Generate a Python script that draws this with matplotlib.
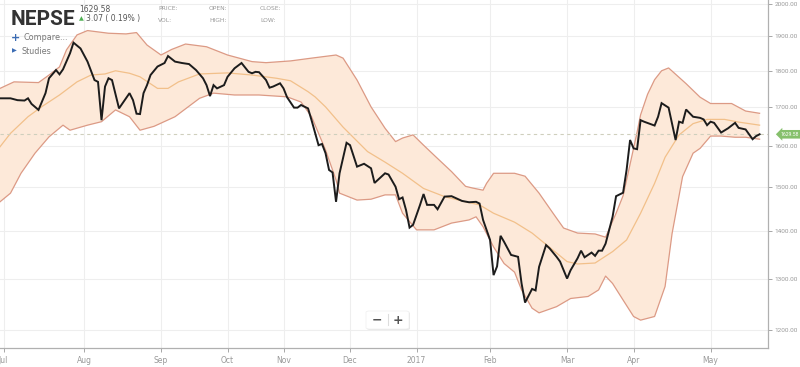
import matplotlib
matplotlib.use("Agg")
import matplotlib.pyplot as plt
import numpy as np
from matplotlib.ticker import FixedLocator, FuncFormatter, NullLocator
from matplotlib.patches import FancyBboxPatch
import matplotlib.transforms as mtransforms

# ---------------- data (trading-day index, value) ----------------
close_day = [0, 3, 5, 7, 8, 9, 11, 13, 14, 16, 17, 18, 20, 21, 23, 25, 27, 28, 29, 30, 31, 32, 34, 37,
             38, 39, 40, 41, 42, 43, 45, 47, 48, 50, 52, 54, 56, 58, 59, 60, 61, 62, 64, 65, 67, 69, 71, 72, 73,
             74, 76, 77, 78, 80, 81, 82, 84, 85, 86, 88, 89, 91, 92, 93, 94, 95, 96, 97, 99, 100, 102, 104, 106, 107, 110,
             111, 113, 114, 115, 116, 117, 118, 120, 121, 122, 124, 125, 127, 129, 132, 134, 136, 137, 138, 140, 141, 142, 143, 144, 146,
             148, 149, 150, 152, 153, 154, 156, 157, 159, 160, 162, 163, 165, 166, 167, 169, 170, 171, 172, 173, 175, 176, 178, 179, 180, 181, 182, 183,
             184, 187, 188, 189, 191, 193, 194, 195, 196, 198, 200, 201, 202, 203, 204, 206, 208, 210, 211, 213, 215, 216, 217]
close = [1724, 1724, 1719, 1718, 1724, 1709, 1693, 1738, 1779, 1802, 1790, 1804, 1850, 1881, 1864, 1826, 1774, 1769, 1666, 1756, 1779, 1774, 1697, 1738,
         1719, 1683, 1682, 1738, 1760, 1788, 1812, 1822, 1842, 1826, 1822, 1819, 1802, 1779, 1760, 1730, 1760, 1751, 1760, 1783, 1807, 1822, 1797, 1793, 1797,
         1796, 1774, 1753, 1756, 1765, 1751, 1727, 1699, 1699, 1706, 1697, 1666, 1602, 1605, 1582, 1541, 1535, 1466, 1533, 1608, 1602, 1549, 1556, 1545, 1510, 1533,
         1530, 1501, 1472, 1476, 1447, 1408, 1414, 1459, 1484, 1459, 1459, 1449, 1478, 1479, 1468, 1465, 1466, 1462, 1425, 1381, 1307, 1325, 1390, 1377, 1349,
         1345, 1290, 1252, 1279, 1276, 1324, 1370, 1363, 1345, 1335, 1300, 1317, 1342, 1358, 1344, 1354, 1347, 1358, 1358, 1373, 1432, 1479, 1487, 1541, 1615, 1594, 1592, 1666,
         1662, 1652, 1675, 1711, 1699, 1615, 1662, 1659, 1694, 1675, 1672, 1668, 1653, 1662, 1659, 1634, 1645, 1659, 1646, 1642, 1617, 1625, 1629.58]

upper_day = [0, 4, 11, 14, 17, 19, 22, 25, 31, 36, 39, 42, 46, 49, 53, 59, 65, 72, 76, 83,
             89, 96, 98, 102, 106, 110, 113, 115, 118, 121, 125, 129, 133, 135, 138, 139, 141, 147, 150, 154,
             158, 161, 165, 170, 173, 176, 178, 180, 182, 183, 185, 187, 189, 191, 196, 200, 203, 209, 213, 217]
upper = [1751, 1769, 1767, 1788, 1811, 1860, 1904, 1917, 1909, 1907, 1911, 1874, 1845, 1861, 1877, 1869, 1845, 1826, 1823, 1828,
         1836, 1845, 1836, 1774, 1701, 1645, 1611, 1620, 1628, 1602, 1569, 1537, 1502, 1498, 1493, 1509, 1533, 1533, 1526, 1486,
         1440, 1407, 1396, 1394, 1387, 1440, 1480, 1555, 1635, 1680, 1735, 1775, 1800, 1808, 1764, 1727, 1710, 1710, 1690, 1684]

mid_day = [0, 3, 8, 12, 17, 22, 26, 30, 33, 37, 40, 45, 48, 51, 57, 65, 72, 79, 83, 88,
           90, 93, 98, 105, 110, 115, 121, 127, 133, 137, 141, 147, 152, 158, 162, 165, 170, 175, 179, 183,
           187, 190, 194, 198, 202, 207, 211, 217]
mid = [1598, 1632, 1675, 1702, 1733, 1769, 1788, 1791, 1800, 1793, 1783, 1751, 1751, 1769, 1791, 1794, 1788, 1779, 1772, 1742,
       1728, 1701, 1648, 1586, 1560, 1533, 1497, 1478, 1466, 1459, 1440, 1420, 1396, 1359, 1335, 1330, 1332, 1356, 1381, 1440,
       1509, 1572, 1628, 1657, 1668, 1668, 1661, 1653]

low_day = [0, 3, 6, 10, 14, 18, 20, 25, 29, 33, 37, 40, 44, 50, 57, 61, 67, 74, 82, 86,
           89, 93, 96, 97, 102, 106, 110, 113, 115, 119, 124, 129, 134, 136, 138, 141, 144, 147, 149, 152,
           154, 159, 163, 168, 171, 173, 175, 178, 181, 183, 187, 190, 192, 195, 198, 200, 203, 206, 210, 213, 217]
low = [1466, 1486, 1533, 1582, 1623, 1653, 1640, 1653, 1662, 1693, 1675, 1640, 1650, 1675, 1724, 1738, 1733, 1733, 1728, 1714,
       1675, 1590, 1517, 1486, 1470, 1472, 1482, 1482, 1440, 1403, 1403, 1418, 1425, 1432, 1410, 1366, 1331, 1313, 1277, 1241,
       1232, 1244, 1260, 1264, 1277, 1305, 1290, 1257, 1225, 1218, 1225, 1284, 1395, 1525, 1582, 1594, 1625, 1625, 1622, 1622, 1617]

month_pos = [1, 24, 46, 65, 81, 100, 119, 140, 162, 181, 203]
month_labels = ["Jul", "Aug", "Sep", "Oct", "Nov", "Dec", "2017", "Feb", "Mar", "Apr", "May"]
y_ticks = [1200, 1300, 1400, 1500, 1600, 1700, 1800, 1900, 2000]
last_price = 1629.58
change_text = "3.07 ( 0.19% )"

# ---------------- figure ----------------
W, H = 800, 367
fig = plt.figure(figsize=(W / 100, H / 100), dpi=100)
fig.patch.set_facecolor("white")
ax = fig.add_axes([0, (H - 348) / H, 768 / W, 348 / H])
ax.set_facecolor("white")
ax.set_yscale("log")
ax.set_xlim(0, 219.4)
ax.set_ylim(1166, 2011)

# grid
for v in y_ticks:
    ax.axhline(v, color="#eeeeee", lw=0.8, zorder=0)
for p in month_pos:
    ax.axvline(p, color="#eeeeee", lw=0.8, zorder=0)

# band fill
poly_x = np.r_[upper_day, low_day[::-1]]
poly_y = np.r_[upper, low[::-1]]
ax.fill(poly_x, poly_y, color="#fde9d9", lw=0, zorder=1)
ax.plot(upper_day, upper, color="#dc9a85", lw=0.9, zorder=2)
ax.plot(low_day, low, color="#dc9a85", lw=0.9, zorder=2)
ax.plot(mid_day, mid, color="#f2c08a", lw=0.9, zorder=2)

# last price dashed line
ax.axhline(last_price, color="#cfcfbd", lw=0.8, ls=(0, (3, 3)), zorder=2)

# close line
ax.plot(close_day, close, color="#1c1c1c", lw=1.4, zorder=3, solid_joinstyle="miter")

# axes styling
for s in ["left", "top"]:
    ax.spines[s].set_visible(False)
for s in ["right", "bottom"]:
    ax.spines[s].set_color("#b0b0b0")
    ax.spines[s].set_linewidth(0.9)

ax.yaxis.tick_right()
ax.yaxis.set_major_locator(FixedLocator(y_ticks))
ax.yaxis.set_minor_locator(NullLocator())
ax.yaxis.set_major_formatter(FuncFormatter(lambda v, p: f"{v:.2f}"))
ax.tick_params(axis="y", labelsize=4.6, colors="#999999", length=3, width=0.6, pad=1.5)
for lab in ax.get_yticklabels():
    lab.set_family("Roboto")

ax.xaxis.set_major_locator(FixedLocator(month_pos))
ax.xaxis.set_minor_locator(NullLocator())
ax.set_xticklabels(month_labels)
ax.tick_params(axis="x", labelsize=5.5, colors="#999999", length=3, width=0.6, pad=3)

# last price label
trans = mtransforms.blended_transform_factory(ax.transAxes, ax.transData)
ax.text(1.0165, last_price, f"{last_price:.2f}", transform=trans, fontsize=3.7, color="white",
        family="Roboto", va="center", ha="left", clip_on=False, zorder=5,
        bbox=dict(boxstyle="larrow,pad=0.35", fc="#86c06c", ec="none"))

# ---------------- header texts ----------------
def fx(x):
    return x / W

def fy(y):
    return 1 - y / H

fig.text(fx(11), fy(25), "NEPSE", fontsize=15, fontweight="bold", color="#333333",
         family="Roboto", va="baseline", ha="left")
fig.text(fx(79), fy(10), f"{last_price:.2f}", fontsize=5.5, color="#555555", va="center", ha="left")
fig.text(fx(79), fy(19), "▲", fontsize=4.5, color="#4caf50", va="center", ha="left")
fig.text(fx(86), fy(19), change_text, fontsize=5.5, color="#555555", va="center", ha="left")

for txt, x, y in [("PRICE:", 158, 9), ("OPEN:", 209, 9), ("CLOSE:", 260, 9),
                  ("VOL:", 158, 21), ("HIGH:", 209, 21), ("LOW:", 260, 21)]:
    fig.text(fx(x), fy(y), txt, fontsize=4.3, color="#999999", va="center", ha="left")

fig.text(fx(11), fy(38), "+", fontsize=8, fontweight="bold", color="#3b6cb4", va="center", ha="left")
fig.text(fx(23), fy(38), "Compare...", fontsize=5.8, color="#777777", va="center", ha="left")
fig.text(fx(12), fy(51), "▶", fontsize=4.5, color="#3b6cb4", va="center", ha="left")
fig.text(fx(22), fy(51), "Studies", fontsize=5.8, color="#777777", va="center", ha="left")

# zoom buttons
shadow = FancyBboxPatch((fx(367), fy(330)), fx(43), 18 / H, boxstyle="round,pad=0,rounding_size=0.004",
                        transform=fig.transFigure, fc="#e8e8e8", ec="none", zorder=9)
btn = FancyBboxPatch((fx(366), fy(329)), fx(43), 18 / H, boxstyle="round,pad=0,rounding_size=0.004",
                     transform=fig.transFigure, fc="white", ec="#eeeeee", lw=0.5, zorder=10)
fig.patches.extend([shadow, btn])
fig.text(fx(377), fy(320), "−", fontsize=9, fontweight="bold", color="#555555", va="center", ha="center", zorder=11)
fig.text(fx(398), fy(320), "+", fontsize=9, fontweight="bold", color="#555555", va="center", ha="center", zorder=11)
fig.add_artist(plt.Line2D([fx(388), fx(388)], [fy(325), fy(314)], transform=fig.transFigure,
                          color="#dddddd", lw=0.8, zorder=11))

fig.savefig("out.png", dpi=100, facecolor="white")
